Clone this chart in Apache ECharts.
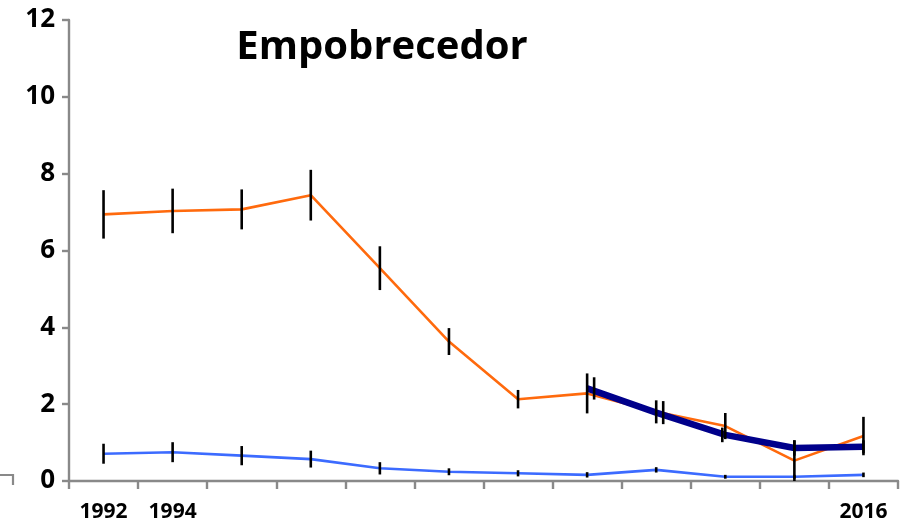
<!DOCTYPE html>
<html>
<head>
<meta charset="utf-8">
<script src="https://cdn.jsdelivr.net/npm/echarts@6/dist/echarts.min.js"></script>
<style>
  html, body { margin: 0; padding: 0; background: #fff; }
  #chart { width: 900px; height: 524px; }
</style>
</head>
<body>
<div id="chart"></div>
<script>
// Survey years on the horizontal axis; only a few are labelled
const years = ['1992', '1994', '1996', '1998', '2000', '2002', '2004', '2006', '2008', '2010', '2012', '2016'];
const shownYears = ['1992', '1994', '2016'];
const yTicks = [0, 2, 4, 6, 8, 10, 12];

// Orange series with its error half-widths
const orangeVals = [6.94, 7.03, 7.07, 7.44, 5.54, 3.63, 2.13, 2.28, 1.80, 1.43, 0.53, 1.17];
const orangeErr  = [0.63, 0.58, 0.52, 0.66, 0.57, 0.35, 0.24, 0.52, 0.30, 0.34, 0.53, 0.50];

// Light blue series with its error half-widths
const blueVals = [0.71, 0.75, 0.66, 0.57, 0.33, 0.24, 0.20, 0.16, 0.29, 0.11, 0.11, 0.16];
const blueErr  = [0.26, 0.26, 0.25, 0.22, 0.16, 0.09, 0.08, 0.07, 0.07, 0.05, 0.05, 0.06];

// Navy series, available from 2006 onwards
const navyVals = [null, null, null, null, null, null, null, 2.41, 1.78, 1.20, 0.86, 0.89];
const navyErr  = [null, null, null, null, null, null, null, 0.29, 0.30, 0.19, 0.20, 0.17];

const LABEL_FONT = 'Open Sans';

// Vertical error bars drawn through the axes' own coordinate mapping.
// nudge(i) moves a bar sideways by a few pixels so overlapping bars stay visible.
function errorSeries(name, vals, errs, nudge) {
  const data = [];
  vals.forEach((v, i) => {
    if (v != null) data.push([i, v - errs[i], v + errs[i]]);
  });
  return {
    name: name,
    type: 'custom',
    z: 5,
    silent: true,
    data: data,
    encode: { x: 0, y: [1, 2] },
    renderItem: function (params, api) {
      const idx = api.value(0);
      const dx = nudge(idx);
      const lo = api.coord([idx, api.value(1)]);
      const hi = api.coord([idx, api.value(2)]);
      return {
        type: 'line',
        shape: { x1: lo[0] + dx, y1: lo[1], x2: hi[0] + dx, y2: hi[1] },
        style: { stroke: '#000', lineWidth: 2.6 }
      };
    }
  };
}

const chart = echarts.init(document.getElementById('chart'), null, { renderer: 'canvas' });

chart.setOption({
  animation: false,
  backgroundColor: '#fff',
  title: {
    text: 'Empobrecedor',
    left: 377,
    top: 23,
    textAlign: 'center',
    textStyle: { fontFamily: LABEL_FONT, fontWeight: 'bold', fontSize: 40, color: '#000' }
  },
  grid: { left: 69, right: 2, top: 20, bottom: 43, containLabel: false },
  xAxis: {
    type: 'category',
    data: years,
    boundaryGap: true,
    axisLine: { lineStyle: { color: '#898989', width: 2.4 } },
    axisTick: { show: true, alignWithLabel: false, interval: 0, length: 8, lineStyle: { color: '#898989', width: 2.4 } },
    axisLabel: {
      interval: 0,
      margin: 21,
      fontFamily: LABEL_FONT,
      fontWeight: 'bold',
      fontSize: 21,
      color: '#000',
      formatter: v => (shownYears.indexOf(v) >= 0 ? v : '')
    },
    splitLine: { show: false }
  },
  yAxis: {
    type: 'value',
    min: yTicks[0],
    max: yTicks[yTicks.length - 1],
    interval: 2,
    axisLine: { show: true, lineStyle: { color: '#898989', width: 2.4 } },
    axisTick: { show: true, length: 7, lineStyle: { color: '#898989', width: 2.4 } },
    axisLabel: { margin: 14, fontFamily: LABEL_FONT, fontWeight: 'bold', fontSize: 26, color: '#000' },
    splitLine: { show: false }
  },
  series: [
    {
      name: 'orange',
      type: 'line',
      data: orangeVals,
      symbol: 'none',
      lineStyle: { color: '#FF6A0D', width: 2.6 },
      z: 3
    },
    {
      name: 'blue',
      type: 'line',
      data: blueVals,
      symbol: 'none',
      lineStyle: { color: '#3C6BFF', width: 2.6 },
      z: 3
    },
    {
      name: 'navy',
      type: 'line',
      data: navyVals,
      symbol: 'none',
      connectNulls: false,
      lineStyle: { color: '#00008B', width: 6.5 },
      z: 4
    },
    errorSeries('orangeErr', orangeVals, orangeErr, () => 0),
    errorSeries('blueErr', blueVals, blueErr, () => 0),
    errorSeries('navyErr', navyVals, navyErr, i => (i <= 8 ? 7 : i === 9 ? -3 : 0))
  ],
  graphic: [
    {
      type: 'polyline',
      shape: { points: [[0, 475], [13, 475], [13, 485]] },
      style: { stroke: '#898989', lineWidth: 2.2, fill: null }
    }
  ]
});
</script>
</body>
</html>
